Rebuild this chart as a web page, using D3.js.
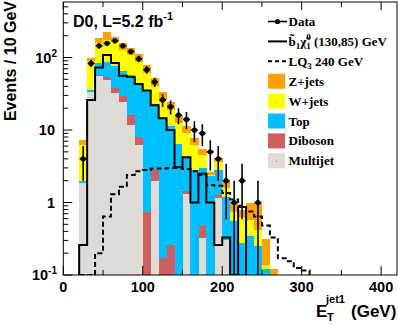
<!DOCTYPE html>
<html><head><meta charset="utf-8">
<script src="https://cdn.jsdelivr.net/npm/d3@7/dist/d3.min.js"></script>
<style>body{margin:0;background:#fff}svg{display:block}</style>
</head><body><svg id="c" width="398" height="325"></svg>
<script>
// ---------- data ----------
const bgBins   = [20,30,40,50,60,70,80,90,100,110,120,130,140,150,160,170,180,190,200,210,220,230,240,250,260];
const multijet = [1.87,33,55,49,32,24,11.7,6.3,0,2.0,0,0,0,1.3,0,0.32,0,1.15,0.3,0,0,0,0,0,0];
const diboson  = [0,0,3,5,5.5,5,4.3,1.7,0.75,0.8,0.17,0.26,0,0.15,0,0.15,0,0.12,0,0,0,0,0,0,0];
const topQ     = [0.11,2.6,25,32,38.5,36,41,37,34.25,20.2,14.83,11.24,6.5,2.85,2.8,2.53,2.3,1.53,0.9,0.55,0.28,0.35,0.25,0.12,0];
const wjets    = [4.22,54.4,74,88,89,61,50,43,27,18,11,7.5,6,4.7,3.5,1.5,0.1,0.8,0.4,0.2,0.36,0.22,0.17,0.017,0];
const zjets    = [1.1,7,31,53,29,31,27,23,17,11,7,5,3.5,2.5,1.5,1.0,0.2,0.5,0.4,0.25,0.16,0.43,0.58,0.18,0.12];

const dataBins   = [20,30,40,50,60,70,80,90,100,110,120,130,140,150,160,170,180,190,200,210,220,230,240];
const dataCounts = [4,83,145,157,170,145,121,96,68,46,26,21,16,14,10,9,5,4,2,1,2,0,1];

const sigBins = [20,30,40,50,60,70,80,90,100,110,120,130,140,150,160,170,180,190,200,210,220];
const sigVals = [0.26,26,73,108,84,56,54,43,35,22,14.5,10,3.1,4.2,1.0,2.5,1.0,0.26,0.33,0,0.87];

const lqBins = [20,30,40,50,60,70,80,90,100,110,120,130,140,150,160,170,180,190,200,210,220,230,240,250,260,270,280,290,300];
const lqVals = [0,0,0.2,0.64,1.3,1.65,2.4,2.7,2.8,2.95,2.95,3.0,3.0,2.9,2.7,2.4,1.75,1.7,1.35,1.1,0.9,0.75,0.64,0.48,0.33,0.17,0.155,0.125,0.115];

const binWidth = 10;
const xMajor = [0,100,200,300,400];
const xMinor = [50,150,250,350];
const yMajor = [0.1,1,10,100];
const yLabels = [["10","-1"],["1",""],["10",""],["10","2"]];

const seriesKeys   = ["multijet","diboson","top","wjets","zjets"];
const seriesNames  = {zjets:"Z+jets",wjets:"W+jets",top:"Top",diboson:"Diboson",multijet:"Multijet"};
const seriesColors = {zjets:"#ffa200",wjets:"#ffff00",top:"#00bfff",diboson:"#cf5f5f",multijet:"#dedad6"};

// ---------- layout ----------
const svg = d3.select("#c");
const L=63.3, R=397, T=2, B=275;
const x = d3.scaleLinear().domain([0,420]).range([L,R]);
const y = d3.scaleLog().domain([0.1,583]).range([B,T]).clamp(true);
const yv = v => (v>0.1 ? y(v) : B);

svg.append("defs").append("clipPath").attr("id","pa")
  .append("rect").attr("x",L).attr("y",T).attr("width",R-L).attr("height",B-T);
const g = svg.append("g").attr("clip-path","url(#pa)");

// stacked backgrounds
const table = bgBins.map((b,i)=>({bin:b,multijet:multijet[i],diboson:diboson[i],top:topQ[i],wjets:wjets[i],zjets:zjets[i]}));
const stacked = d3.stack().keys(seriesKeys)(table);
stacked.forEach(layer=>{
  g.append("g").attr("shape-rendering","crispEdges").selectAll("rect")
    .data(layer.filter(d=>d[1]>d[0] && d[1]>0.1))
    .join("rect")
    .attr("x",d=>x(d.data.bin))
    .attr("width",d=>x(d.data.bin+binWidth)-x(d.data.bin)+0.3)
    .attr("y",d=>yv(d[1]))
    .attr("height",d=>yv(d[0])-yv(d[1]))
    .attr("fill",seriesColors[layer.key]);
});

function stepPath(bins, vals){
  let p = `M${x(bins[0])},${B}`;
  bins.forEach((b,i)=>{ const yy = yv(vals[i]); p += `L${x(b)},${yy}L${x(b+binWidth)},${yy}`; });
  p += `L${x(bins[bins.length-1]+binWidth)},${B}`;
  return p;
}
g.append("path").attr("d",stepPath(lqBins,lqVals)).attr("fill","none")
  .attr("stroke","#000").attr("stroke-width",2).attr("stroke-dasharray","5,3");
g.append("path").attr("d",stepPath(sigBins,sigVals)).attr("fill","none")
  .attr("stroke","#000").attr("stroke-width",2);

// data points
const pts = dataBins.map((b,i)=>({b, n:dataCounts[i]})).filter(d=>d.n>0);
const dg = g.append("g");
pts.forEach(d=>{
  const cx = x(d.b+binWidth/2), e = Math.sqrt(d.n);
  dg.append("line").attr("x1",cx).attr("x2",cx).attr("y1",yv(d.n+e)).attr("y2",yv(d.n-e))
    .attr("stroke","#000").attr("stroke-width",1.6);
  dg.append("line").attr("x1",x(d.b)+0.5).attr("x2",x(d.b+binWidth)-0.5).attr("y1",y(d.n)).attr("y2",y(d.n))
    .attr("stroke","#000").attr("stroke-width",1.6);
  dg.append("circle").attr("cx",cx).attr("cy",y(d.n)).attr("r",2.6).attr("fill","#000");
});

// frame
svg.append("rect").attr("x",L).attr("y",T).attr("width",R-L).attr("height",B-T)
  .attr("fill","none").attr("stroke","#000").attr("stroke-width",1);

// axes ticks
const ax = svg.append("g").attr("stroke","#000").attr("stroke-width",1);
xMajor.forEach(v=>{
  ax.append("line").attr("x1",x(v)).attr("x2",x(v)).attr("y1",B).attr("y2",B-9);
  ax.append("line").attr("x1",x(v)).attr("x2",x(v)).attr("y1",T).attr("y2",T+8);
});
xMinor.forEach(v=>{
  ax.append("line").attr("x1",x(v)).attr("x2",x(v)).attr("y1",B).attr("y2",B-5);
  ax.append("line").attr("x1",x(v)).attr("x2",x(v)).attr("y1",T).attr("y2",T+5);
});
const yMinor = [];
[0.1,1,10,100].forEach(dec=>{ for(let k=2;k<=9;k++){ const v=dec*k; if(v<583) yMinor.push(v);} });
yMajor.forEach(v=>ax.append("line").attr("x1",L).attr("x2",L+9).attr("y1",y(v)).attr("y2",y(v)));
yMinor.forEach(v=>ax.append("line").attr("x1",L).attr("x2",L+5).attr("y1",y(v)).attr("y2",y(v)));

const font = "'Liberation Sans', Arial, Helvetica, sans-serif";
// x tick labels
svg.append("g").selectAll("text").data(xMajor).join("text")
  .attr("x",d=>x(d)).attr("y",292).attr("text-anchor","middle")
  .attr("font-family",font).attr("font-weight","bold").attr("font-size",14.5)
  .text(d=>d);
// y tick labels
yMajor.forEach((v,i)=>{
  const [base,sup] = yLabels[i];
  const t = svg.append("text").attr("y",y(v)+5).attr("font-family",font)
    .attr("font-weight","bold").attr("font-size",14.5).attr("text-anchor","end");
  if(sup){
    t.attr("x",57);
    t.append("tspan").text(base);
    t.append("tspan").attr("font-size",10).attr("dy",-6).text(sup);
  } else {
    t.attr("x",55).text(base);
  }
});

// axis titles
svg.append("text").attr("transform","translate(16,0) rotate(-90)")
  .attr("x",-1).attr("y",0).attr("text-anchor","end")
  .attr("font-family",font).attr("font-weight","bold").attr("font-size",16)
  .text("Events / 10 GeV");
const xt = svg.append("g").attr("font-family",font).attr("font-weight","bold");
xt.append("text").attr("x",316).attr("y",317).attr("font-size",17).text("E");
xt.append("text").attr("x",327).attr("y",321).attr("font-size",11).text("T");
xt.append("text").attr("x",326).attr("y",303).attr("font-size",11).text("jet1");
xt.append("text").attr("x",351).attr("y",317).attr("font-size",17).text("(GeV)");

// experiment label
const lab = svg.append("text").attr("x",73).attr("y",27).attr("font-family",font)
  .attr("font-weight","bold").attr("font-size",16);
lab.append("tspan").text("D0, L=5.2 fb");
lab.append("tspan").attr("font-size",11).attr("dy",-7).text("-1");

// legend
const lg = svg.append("g").attr("font-family","'Liberation Serif','Times New Roman',serif")
  .attr("font-weight","bold").attr("font-size",13);
const rowY = i => 21.5 + i*19.9;
const lx0 = 268, lx1 = 287, tx = 288.5;
// Data
lg.append("line").attr("x1",lx0).attr("x2",lx1).attr("y1",rowY(0)).attr("y2",rowY(0)).attr("stroke","#000").attr("stroke-width",1.6);
lg.append("circle").attr("cx",(lx0+lx1)/2).attr("cy",rowY(0)).attr("r",2.6).attr("fill","#000");
lg.append("text").attr("x",tx).attr("y",rowY(0)+4.5).text("Data");
// signal
lg.append("line").attr("x1",lx0).attr("x2",lx1).attr("y1",rowY(1)).attr("y2",rowY(1)).attr("stroke","#000").attr("stroke-width",2);
const st = lg.append("text").attr("x",tx).attr("y",rowY(1)+4.5);
st.append("tspan").text("b\u0303");
st.append("tspan").attr("font-size",9).attr("dy",3).text("1");
st.append("tspan").attr("dy",-3).text("\u03c7\u0303");
st.append("tspan").attr("font-size",9).attr("dy",-6).text("0");
st.append("tspan").attr("font-size",9).attr("dx",-4.5).attr("dy",9).text("1");
st.append("tspan").attr("dy",-3).text(" (130,85) GeV");
// LQ
lg.append("line").attr("x1",lx0).attr("x2",lx1).attr("y1",rowY(2)).attr("y2",rowY(2)).attr("stroke","#000").attr("stroke-width",2).attr("stroke-dasharray","4,3");
const lt = lg.append("text").attr("x",tx).attr("y",rowY(2)+4.5);
lt.append("tspan").text("LQ");
lt.append("tspan").attr("font-size",9).attr("dy",3).text("3");
lt.append("tspan").attr("dy",-3).text("  240 GeV");
// boxes
["zjets","wjets","top","diboson","multijet"].forEach((k,i)=>{
  const yy = rowY(i+3);
  lg.append("rect").attr("x",lx0).attr("y",yy-7.5).attr("width",17).attr("height",15).attr("fill",seriesColors[k]);
  lg.append("rect").attr("x",lx0+8).attr("y",yy).attr("width",1).attr("height",1).attr("fill","#777");
  lg.append("text").attr("x",tx).attr("y",yy+4.5).text(seriesNames[k]);
});
</script></body></html>
